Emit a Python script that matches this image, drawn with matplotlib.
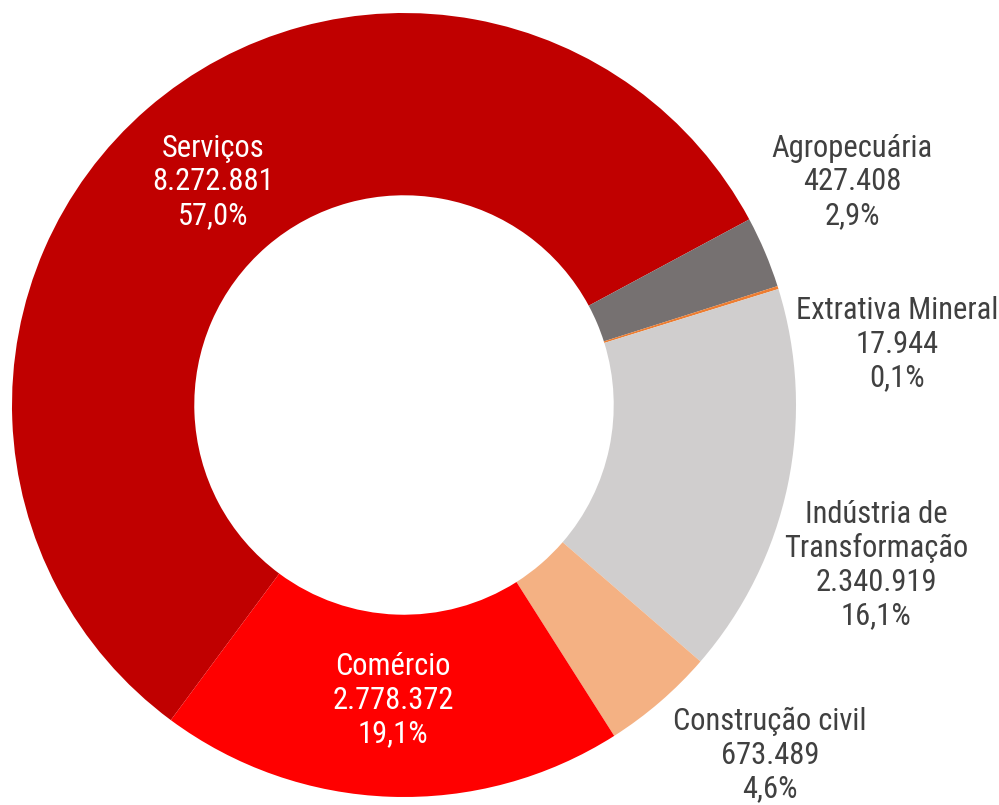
import os
import matplotlib
matplotlib.use("Agg")
import matplotlib.pyplot as plt
from matplotlib import font_manager
from matplotlib.font_manager import FontProperties

# Sector employment figures
sectors = ["Serviços", "Agropecuária", "Extrativa Mineral",
           "Indústria de\nTransformação", "Construção civil", "Comércio"]
values = [8272881, 427408, 17944, 2340919, 673489, 2778372]
colors = ["#C00000", "#767171", "#ED7D31", "#D0CECE", "#F4B183", "#FF0000"]
text_colors = ["white", "#404040", "#404040", "#404040", "#404040", "white"]

# Prefer a narrow sans face for the labels when one is installed
preferred = ["liberationsansnarrow-regular", "arialn", "arial narrow",
             "robotocondensed-regular", "opensans_condensed-regular",
             "opensanscondensed-regular", "notosans-condensed", "notosanscondensed-regular",
             "dejavusanscondensed"]
files = font_manager.findSystemFonts()
chosen = None
for key in preferred:
    for f in files:
        base = os.path.basename(f).lower().replace(" ", "")
        if base.startswith(key.replace(" ", "")) and not any(
                s in base for s in ["bold", "italic", "oblique", "light", "semi", "extra", "medium", "black", "thin"]):
            chosen = f
            break
    if chosen:
        break

if chosen:
    font = FontProperties(fname=chosen, size=22)
else:
    font = FontProperties(family=["Liberation Sans", "DejaVu Sans"], size=20)

W, H = 999, 805
fig = plt.figure(figsize=(W / 100, H / 100), dpi=100)
ax = fig.add_axes([0, 0, 1, 1])

cx, cy, R = 404, 405, 392
ax.pie(values, colors=colors, startangle=-233.5, counterclock=True,
       center=(cx, cy), radius=R, frame=True,
       wedgeprops=dict(width=R * 0.465, linewidth=0))
ax.set_xlim(0, W)
ax.set_ylim(H, 0)
ax.set_aspect("equal")
ax.axis("off")

total = sum(values)


def fmt_int(v):
    return f"{v:,}".replace(",", ".")


def fmt_pct(v):
    return f"{100 * v / total:.1f}%".replace(".", ",")


label_pos = [(213, 182), (852, 182), (897, 344), (876, 565), (770, 755), (393, 700)]
for name, v, tc, (x, y) in zip(sectors, values, text_colors, label_pos):
    ax.text(x, y, f"{name}\n{fmt_int(v)}\n{fmt_pct(v)}", ha="center", va="center",
            fontproperties=font, color=tc, linespacing=1.2)

fig.savefig("out.png", dpi=100)
